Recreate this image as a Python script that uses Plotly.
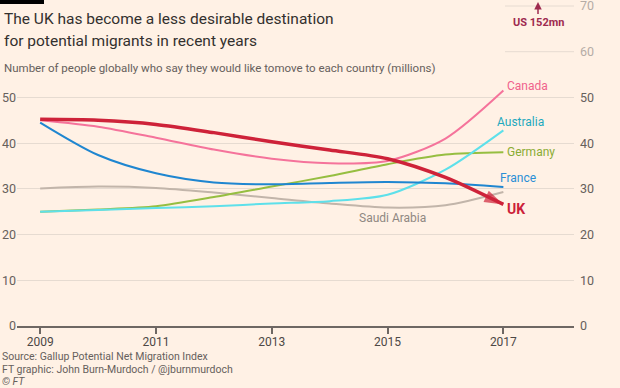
import plotly.graph_objects as go

years = [2009, 2010, 2011, 2012, 2013, 2014, 2015, 2016, 2017]
saudi = [30.1, 30.5, 30.2, 29.2, 28.0, 26.8, 25.9, 26.4, 29.3]
germany = [25.0, 25.5, 26.2, 28.2, 30.5, 32.8, 35.4, 37.5, 38.0]
australia = [25.0, 25.4, 25.8, 26.2, 26.8, 27.3, 28.7, 34.2, 42.8]
france = [44.5, 37.4, 33.4, 31.4, 31.0, 31.3, 31.5, 31.2, 30.4]
canada = [45.0, 43.6, 41.2, 38.6, 36.6, 35.6, 36.1, 41.0, 51.5]
uk = [45.2, 45.0, 44.1, 42.3, 40.3, 38.5, 36.6, 32.5, 26.6]

x_ticks = [2009, 2011, 2013, 2015, 2017]
y_ticks_left = [0, 10, 20, 30, 40, 50]
y_ticks_right = [0, 10, 20, 30, 40, 50, 60, 70]

FONT = "Roboto, sans-serif"
BG = "#FFF1E5"
GRID = "#E6DBD1"
TXT = "#66605C"

# plot area geometry (pixels)
TOP, BOTTOM, LEFT, RIGHT = 2, 326, 17, 574
PXU = 320 / 70  # pixels per unit
YMAX = (BOTTOM - TOP) / PXU
H = BOTTOM - TOP
W = RIGHT - LEFT

fig = go.Figure()

def add(vals, color, width, name):
    fig.add_trace(go.Scatter(x=years, y=vals, mode="lines", name=name,
                             line=dict(color=color, width=width, shape="spline", smoothing=0.8),
                             hoverinfo="skip", showlegend=False))

add(saudi, "#C2B5AA", 2, "Saudi Arabia")
add(germany, "#96BE41", 2, "Germany")
add(australia, "#5EE0EA", 2, "Australia")
add(france, "#1F86D0", 2, "France")
add(canada, "#F5739B", 2, "Canada")
add(uk, "#CE2239", 3.5, "UK")
# arrowhead at end of UK line
fig.add_trace(go.Scatter(x=years[-2:], y=uk[-2:], mode="markers",
                         marker=dict(symbol="arrow", size=[0, 20], color="#CE2239",
                                     angleref="previous", line=dict(width=0)),
                         hoverinfo="skip", showlegend=False))

labels = [
    ("Canada", 2017.02, 52.4, "#F0628C", False, 12),
    ("Australia", 2016.86, 44.6, "#1FA9BE", False, 12),
    ("Germany", 2017.03, 38.1, "#8AAC34", False, 12),
    ("France", 2016.9, 32.4, "#2A8FD6", False, 12),
    ("UK", 2017.02, 25.6, "#CC1F3A", True, 14),
]
for t, x, y, c, b, s in labels:
    fig.add_annotation(x=x, y=y, xref="x", yref="y", text=f"<b>{t}</b>" if b else t,
                       showarrow=False, xanchor="left", yanchor="middle",
                       font=dict(color=c, size=s, family=FONT))
fig.add_annotation(x=2015.09, y=23.6, xref="x", yref="y", text="Saudi Arabia",
                   showarrow=False, xanchor="center", yanchor="middle",
                   font=dict(color="#8F8882", size=12, family=FONT))

def py(p):
    return (BOTTOM - p) / H

def px(p):
    return (p - LEFT) / W

# title & subtitle
for line, ypix in [("The UK has become a less desirable destination", 19),
                   ("for potential migrants in recent years", 41)]:
    fig.add_annotation(x=px(2), y=py(ypix), xref="paper", yref="paper", xanchor="left", yanchor="middle",
                       text=line, showarrow=False, font=dict(size=15.5, color="#33302E", family=FONT))
fig.add_annotation(x=px(2), y=py(68), xref="paper", yref="paper", xanchor="left", yanchor="middle",
                   text="Number of people globally who say they would like tomove to each country (millions)",
                   showarrow=False, font=dict(size=11.5, color=TXT, family=FONT))
# source
for t, ypix in [("Source: Gallup Potential Net Migration Index", 356.5),
                ("FT graphic: John Burn-Murdoch / @jburnmurdoch", 369),
                ("<i>© FT</i>", 381.5)]:
    fig.add_annotation(x=px(0), y=py(ypix), xref="paper", yref="paper",
                       xanchor="left", yanchor="middle", text=t, showarrow=False,
                       font=dict(size=10.5, color=TXT, family=FONT))

# US note
fig.add_annotation(x=px(538), y=py(2), xref="paper", yref="paper",
                   ax=0, ay=20, text="<b>US 152mn</b>", showarrow=True, arrowhead=2,
                   arrowsize=1, arrowwidth=1.5, arrowcolor="#9E2A4F",
                   font=dict(size=11, color="#9E2A4F", family=FONT))

# black bar, short gridlines
fig.add_shape(type="rect", xref="paper", yref="paper", x0=px(0), x1=px(44),
              y0=py(4), y1=py(-4), fillcolor="black", line=dict(width=0))
for v in [60, 70]:
    fig.add_shape(type="line", xref="paper", yref="y", x0=px(505), x1=1, y0=v, y1=v,
                  line=dict(color=GRID, width=1), layer="below")

right_text = [str(v) if v <= 50 else f"<span style='color:#B5ACA5'>{v}</span>" for v in y_ticks_right]

fig.update_layout(
    template="none",
    width=620, height=388, paper_bgcolor=BG, plot_bgcolor=BG,
    margin=dict(l=LEFT, r=620 - RIGHT, t=TOP, b=388 - BOTTOM, pad=0),
    font=dict(family=FONT, color=TXT, size=12),
    xaxis=dict(range=[2008.6, 2018.22], tickvals=x_ticks, showgrid=False, zeroline=False, automargin=False,
               showline=True, linecolor="#6E6763", linewidth=1.5, ticks="outside", ticklen=6,
               tickcolor="#6E6763", tickwidth=1.5, tickfont=dict(size=12, color="#4D4845"),
               ticklabelstandoff=-2),
    yaxis=dict(range=[0, YMAX], tickvals=y_ticks_left, showgrid=True, gridcolor=GRID, gridwidth=1,
               zeroline=False, ticks="", automargin=False, showline=False,
               tickfont=dict(size=12.5, color=TXT), ticklabelstandoff=0),
    yaxis2=dict(range=[0, YMAX], overlaying="y", side="right", tickvals=y_ticks_right, automargin=False,
                ticktext=right_text, showgrid=False, zeroline=False, ticks="", showline=False,
                ticklabeloverflow="allow",
                tickfont=dict(size=12.5, color=TXT), ticklabelstandoff=5),
)
fig.add_trace(go.Scatter(x=[None], y=[None], yaxis="y2", showlegend=False, hoverinfo="skip"))

fig.write_html("out.html", config={"displayModeBar": False},
               post_script="document.body.style.margin='0';document.body.style.padding='0';")
